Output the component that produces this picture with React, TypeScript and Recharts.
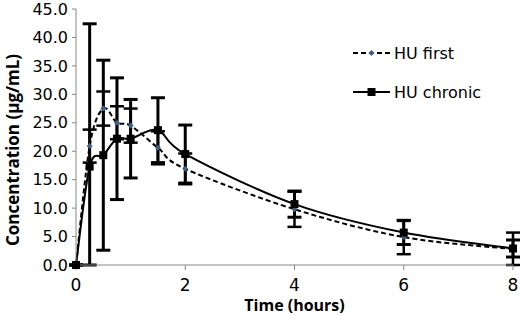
import React from 'react';
import { LineChart, Line, XAxis, YAxis, ErrorBar, Label } from 'recharts';

const hours = [0, 0.25, 0.5, 0.75, 1, 1.5, 2, 4, 6, 8];
const huFirst = [0, 20.9, 27.5, 25.0, 24.5, 20.6, 16.9, 9.8, 4.9, 2.8];
const huFirstErr = [0, 2.9, 3.0, 2.9, 3.0, 2.9, 2.7, 3.1, 3.0, 2.9];
const huChronic = [0, 17.3, 19.3, 22.2, 22.2, 23.7, 19.5, 10.7, 5.7, 2.9];
const huChronicErr = [0, 25.1, 16.7, 10.7, 6.9, 5.7, 5.1, 2.3, 2.1, 1.5];
const yTicks = [0, 5, 10, 15, 20, 25, 30, 35, 40, 45];
const xTicks = [0, 2, 4, 6, 8];

// error bars never go below the x axis
const data = hours.map((t, i) => ({
  t,
  first: huFirst[i],
  firstErr: [Math.min(huFirstErr[i], huFirst[i]), huFirstErr[i]],
  chronic: huChronic[i],
  chronicErr: [Math.min(huChronicErr[i], huChronic[i]), huChronicErr[i]],
}));

// Excel-style smoothed line (catmull-rom through the points)
const excelSmooth = (context: any) => {
  let pts: number[][] = [];
  return {
    areaStart() {},
    areaEnd() {},
    lineStart() {
      pts = [];
    },
    point(x: number, y: number) {
      pts.push([+x, +y]);
    },
    lineEnd() {
      if (!pts.length) return;
      context.moveTo(pts[0][0], pts[0][1]);
      for (let i = 0; i < pts.length - 1; i++) {
        const p0 = pts[i - 1] || pts[i];
        const p1 = pts[i];
        const p2 = pts[i + 1];
        const p3 = pts[i + 2] || p2;
        context.bezierCurveTo(
          p1[0] + (p2[0] - p0[0]) / 6,
          p1[1] + (p2[1] - p0[1]) / 6,
          p2[0] - (p3[0] - p1[0]) / 6,
          p2[1] - (p3[1] - p1[1]) / 6,
          p2[0],
          p2[1]
        );
      }
    },
  };
};

const axisColor = '#868686';
const font = '"DejaVu Sans", sans-serif';

const SquareDot = (props: any) => {
  const { cx, cy } = props;
  if (cx == null || cy == null) return null;
  return <rect x={cx - 4} y={cy - 4} width={8} height={8} fill="#000" />;
};

const DiamondDot = (props: any) => {
  const { cx, cy } = props;
  if (cx == null || cy == null) return null;
  return (
    <path
      d={`M${cx},${cy - 3} L${cx + 3},${cy} L${cx},${cy + 3} L${cx - 3},${cy} Z`}
      fill="#3f6284"
    />
  );
};

const LegendBox = () => (
  <svg width={140} height={70} style={{ position: 'absolute', left: 353, top: 41 }}>
    <line x1={0} y1={12} x2={37} y2={12} stroke="#000" strokeWidth={2} strokeDasharray="5 3" />
    <path d="M18.5,9 L21.5,12 L18.5,15 L15.5,12 Z" fill="#3f6284" />
    <text x={41} y={12} dy="0.35em" fontSize={16} fontFamily={font} fill="#000">HU first</text>
    <line x1={0} y1={51} x2={37} y2={51} stroke="#000" strokeWidth={2} />
    <rect x={14.5} y={47} width={8} height={8} fill="#000" />
    <text x={41} y={51} dy="0.35em" fontSize={16} fontFamily={font} fill="#000">HU chronic</text>
  </svg>
);

export default function App() {
  return (
    <div style={{ position: 'absolute', left: 0, top: 0, width: 520, height: 316, background: '#fff' }}>
      <LineChart width={520} height={316} data={data} margin={{ top: 9, right: 7, bottom: 0, left: 16 }}>
        <XAxis
          dataKey="t"
          type="number"
          domain={[0, 8]}
          ticks={xTicks}
          interval={0}
          stroke={axisColor}
          tickSize={5}
          tickMargin={9}
          height={51}
          tick={{ fill: '#000', fontSize: 17, fontFamily: font }}
        >
          <Label
            value="Time (hours)"
            position="insideBottom"
            offset={5}
            style={{ fontSize: 16, fontWeight: 'bold', fontFamily: '"Open Sans", sans-serif', fill: '#000' }}
          />
        </XAxis>
        <YAxis
          type="number"
          domain={[0, 45]}
          ticks={yTicks}
          interval={0}
          tickFormatter={(v: number) => v.toFixed(1)}
          stroke={axisColor}
          tickSize={4}
          tickMargin={4}
          width={60}
          tick={{ fill: '#000', fontSize: 16, fontFamily: font }}
        >
          <Label
            content={() => (
              <text
                x={12}
                y={150}
                transform="rotate(-90 12 150)"
                textAnchor="middle"
                dominantBaseline="central"
                fontSize={17}
                fontWeight="bold"
                fontFamily='"Open Sans", sans-serif'
                fill="#000"
              >
                Concentration (µg/mL)
              </text>
            )}
          />
        </YAxis>
        <Line
          dataKey="first"
          name="HU first"
          type={excelSmooth as any}
          stroke="#000"
          strokeWidth={2}
          strokeDasharray="5 3"
          dot={<DiamondDot />}
          activeDot={false}
          isAnimationActive={false}
        >
          <ErrorBar dataKey="firstErr" direction="y" width={7} strokeWidth={2.5} stroke="#000" />
        </Line>
        <Line
          dataKey="chronic"
          name="HU chronic"
          type={excelSmooth as any}
          stroke="#000"
          strokeWidth={2}
          dot={<SquareDot />}
          activeDot={false}
          isAnimationActive={false}
        >
          <ErrorBar dataKey="chronicErr" direction="y" width={7} strokeWidth={3} stroke="#000" />
        </Line>
      </LineChart>
      <LegendBox />
    </div>
  );
}
